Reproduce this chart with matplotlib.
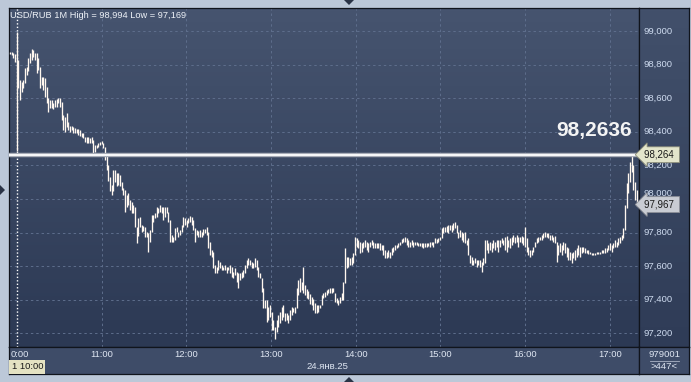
import numpy as np
import matplotlib.pyplot as plt
from matplotlib.colors import LinearSegmentedColormap
from matplotlib.patches import Polygon

plt.rcParams['font.family'] = ['Liberation Sans', 'DejaVu Sans']

# USD/RUB 1M bars, 24 Jan 2025 (sampled from the chart)
t_start, t_end = 9 + 55 / 60, 17 + 19 / 60

high = [
    98.875, 98.875, 98.869, 98.863, 98.994, 98.827, 98.708, 98.696, 98.708, 98.780,
    98.786, 98.839, 98.869, 98.893, 98.887, 98.869, 98.869, 98.839, 98.786, 98.726,
    98.726, 98.720, 98.667, 98.601, 98.589, 98.589, 98.571, 98.589, 98.595, 98.601,
    98.601, 98.577, 98.500, 98.488, 98.512, 98.458, 98.435, 98.435, 98.429, 98.423,
    98.417, 98.417, 98.411, 98.393, 98.393, 98.369, 98.369, 98.369, 98.363, 98.369,
    98.351, 98.321, 98.321, 98.333, 98.339, 98.345, 98.333, 98.310, 98.274, 98.202,
    98.131, 98.084, 98.173, 98.173, 98.155, 98.155, 98.143, 98.101, 98.066, 98.054,
    98.024, 98.036, 97.994, 97.982, 97.964, 97.953, 97.833, 97.887, 97.893, 97.845,
    97.839, 97.833, 97.803, 97.797, 97.815, 97.905, 97.905, 97.917, 97.953, 97.947,
    97.964, 97.953, 97.953, 97.953, 97.953, 97.923, 97.875, 97.785, 97.774, 97.827,
    97.833, 97.803, 97.815, 97.845, 97.893, 97.887, 97.875, 97.887, 97.899, 97.893,
    97.875, 97.827, 97.815, 97.809, 97.815, 97.803, 97.821, 97.821, 97.833, 97.803,
    97.744, 97.696, 97.684, 97.607, 97.595, 97.637, 97.625, 97.607, 97.595, 97.607,
    97.595, 97.595, 97.607, 97.595, 97.565, 97.589, 97.565, 97.559, 97.559, 97.565,
    97.577, 97.607, 97.637, 97.649, 97.637, 97.625, 97.619, 97.649, 97.637, 97.595,
    97.559, 97.530, 97.470, 97.399, 97.399, 97.357, 97.369, 97.327, 97.280, 97.238,
    97.280, 97.309, 97.327, 97.357, 97.369, 97.321, 97.321, 97.309, 97.339, 97.357,
    97.351, 97.357, 97.470, 97.518, 97.530, 97.506, 97.595, 97.488, 97.464, 97.452,
    97.434, 97.417, 97.405, 97.381, 97.369, 97.369, 97.369, 97.428, 97.440, 97.446,
    97.458, 97.464, 97.470, 97.470, 97.470, 97.440, 97.411, 97.399, 97.417, 97.440,
    97.506, 97.708, 97.655, 97.655, 97.649, 97.655, 97.678, 97.774, 97.768, 97.756,
    97.744, 97.738, 97.744, 97.756, 97.744, 97.738, 97.744, 97.756, 97.744, 97.738,
    97.738, 97.738, 97.738, 97.726, 97.726, 97.696, 97.684, 97.696, 97.684, 97.708,
    97.714, 97.726, 97.726, 97.738, 97.744, 97.762, 97.768, 97.774, 97.768, 97.756,
    97.744, 97.756, 97.744, 97.744, 97.744, 97.738, 97.738, 97.738, 97.738, 97.738,
    97.738, 97.738, 97.744, 97.744, 97.744, 97.768, 97.762, 97.768, 97.774, 97.827,
    97.833, 97.833, 97.839, 97.845, 97.845, 97.845, 97.857, 97.863, 97.845, 97.803,
    97.815, 97.803, 97.797, 97.803, 97.756, 97.768, 97.666, 97.655, 97.637, 97.649,
    97.637, 97.637, 97.637, 97.625, 97.649, 97.756, 97.756, 97.738, 97.744, 97.738,
    97.756, 97.744, 97.756, 97.756, 97.756, 97.768, 97.756, 97.774, 97.780, 97.756,
    97.768, 97.774, 97.785, 97.774, 97.785, 97.774, 97.774, 97.780, 97.774, 97.833,
    97.768, 97.714, 97.696, 97.696, 97.714, 97.744, 97.768, 97.774, 97.774, 97.785,
    97.797, 97.803, 97.797, 97.797, 97.785, 97.785, 97.774, 97.780, 97.744, 97.726,
    97.738, 97.726, 97.744, 97.738, 97.714, 97.708, 97.684, 97.678, 97.684, 97.696,
    97.708, 97.726, 97.714, 97.714, 97.714, 97.708, 97.696, 97.696, 97.684, 97.678,
    97.678, 97.678, 97.684, 97.684, 97.684, 97.696, 97.696, 97.708, 97.708, 97.726,
    97.738, 97.726, 97.738, 97.756, 97.744, 97.768, 97.774, 97.785, 97.827, 97.964,
    98.096, 98.155, 98.220, 98.264, 98.202, 98.101, 98.054,
]
low = [
    98.863, 98.857, 98.839, 98.815, 98.286, 98.661, 98.589, 98.637, 98.661, 98.690,
    98.738, 98.762, 98.809, 98.827, 98.845, 98.827, 98.750, 98.768, 98.661, 98.678,
    98.649, 98.607, 98.571, 98.518, 98.542, 98.542, 98.536, 98.548, 98.548, 98.571,
    98.548, 98.470, 98.411, 98.399, 98.429, 98.411, 98.399, 98.411, 98.393, 98.393,
    98.393, 98.381, 98.375, 98.369, 98.363, 98.339, 98.333, 98.333, 98.333, 98.333,
    98.274, 98.280, 98.304, 98.310, 98.321, 98.327, 98.304, 98.232, 98.173, 98.107,
    98.048, 98.024, 98.048, 98.101, 98.078, 98.084, 98.078, 98.054, 98.024, 97.923,
    97.953, 97.964, 97.935, 97.917, 97.917, 97.833, 97.738, 97.780, 97.833, 97.803,
    97.809, 97.774, 97.774, 97.684, 97.744, 97.803, 97.863, 97.887, 97.893, 97.917,
    97.923, 97.917, 97.875, 97.893, 97.917, 97.863, 97.744, 97.744, 97.744, 97.756,
    97.803, 97.774, 97.785, 97.803, 97.833, 97.845, 97.833, 97.857, 97.863, 97.845,
    97.815, 97.744, 97.785, 97.774, 97.774, 97.774, 97.785, 97.797, 97.785, 97.708,
    97.666, 97.655, 97.589, 97.559, 97.559, 97.577, 97.589, 97.577, 97.577, 97.577,
    97.559, 97.577, 97.559, 97.535, 97.530, 97.547, 97.506, 97.470, 97.518, 97.530,
    97.535, 97.559, 97.589, 97.607, 97.607, 97.589, 97.589, 97.595, 97.577, 97.535,
    97.530, 97.446, 97.351, 97.351, 97.268, 97.280, 97.298, 97.220, 97.220, 97.169,
    97.208, 97.238, 97.262, 97.280, 97.298, 97.274, 97.280, 97.262, 97.280, 97.309,
    97.327, 97.321, 97.351, 97.428, 97.446, 97.458, 97.440, 97.428, 97.411, 97.405,
    97.375, 97.369, 97.339, 97.321, 97.321, 97.327, 97.351, 97.369, 97.411, 97.417,
    97.428, 97.440, 97.440, 97.440, 97.446, 97.387, 97.381, 97.369, 97.381, 97.399,
    97.399, 97.500, 97.589, 97.595, 97.607, 97.607, 97.619, 97.666, 97.714, 97.708,
    97.678, 97.684, 97.708, 97.714, 97.696, 97.684, 97.714, 97.726, 97.708, 97.708,
    97.708, 97.708, 97.696, 97.696, 97.666, 97.649, 97.649, 97.655, 97.649, 97.666,
    97.684, 97.696, 97.708, 97.714, 97.726, 97.738, 97.744, 97.744, 97.726, 97.714,
    97.714, 97.726, 97.714, 97.726, 97.726, 97.720, 97.720, 97.714, 97.708, 97.714,
    97.714, 97.720, 97.714, 97.726, 97.714, 97.738, 97.738, 97.744, 97.756, 97.768,
    97.797, 97.803, 97.803, 97.797, 97.815, 97.803, 97.815, 97.827, 97.797, 97.768,
    97.774, 97.756, 97.744, 97.738, 97.726, 97.666, 97.619, 97.607, 97.607, 97.619,
    97.595, 97.607, 97.595, 97.565, 97.607, 97.619, 97.696, 97.678, 97.696, 97.684,
    97.708, 97.696, 97.714, 97.684, 97.714, 97.738, 97.726, 97.696, 97.684, 97.714,
    97.708, 97.726, 97.744, 97.738, 97.744, 97.714, 97.744, 97.738, 97.726, 97.714,
    97.684, 97.666, 97.655, 97.666, 97.684, 97.714, 97.738, 97.744, 97.756, 97.756,
    97.768, 97.774, 97.774, 97.768, 97.756, 97.756, 97.744, 97.738, 97.625, 97.666,
    97.684, 97.666, 97.696, 97.678, 97.655, 97.637, 97.637, 97.619, 97.649, 97.637,
    97.655, 97.666, 97.655, 97.678, 97.684, 97.678, 97.678, 97.672, 97.672, 97.666,
    97.666, 97.666, 97.672, 97.672, 97.672, 97.678, 97.678, 97.678, 97.684, 97.696,
    97.696, 97.684, 97.708, 97.714, 97.714, 97.726, 97.738, 97.756, 97.768, 97.815,
    97.947, 98.036, 98.101, 98.161, 98.054, 97.994, 97.958,
]

price_ticks = [97.2, 97.4, 97.6, 97.8, 98.0, 98.2, 98.4, 98.6, 98.8, 99.0]
hour_ticks = [11, 12, 13, 14, 15, 16, 17]
line_price = 98.2636
last_price = 97.967
day_open = 10.0
title = "USD/RUB 1M High = 98,994 Low = 97,169"
date_label = "24.янв.25"

W, H = 691, 382
x_lim = (9.9055, 17.3436)
y_lim = (97.119, 99.137)


def rub(v):
    return f"{v:.3f}".replace(".", ",")


def gradient(ax, top, bottom):
    cmap = LinearSegmentedColormap.from_list("g", [bottom, top])
    ax.imshow(np.linspace(0, 1, 100).reshape(-1, 1), cmap=cmap, origin="lower",
              extent=[0, 1, 0, 1], transform=ax.transAxes, aspect="auto", zorder=0)


fig = plt.figure(figsize=(W / 100, H / 100), dpi=100, facecolor="#bcc8d8")

ax = fig.add_axes([9 / W, 35 / H, 630 / W, 339 / H])
axr = fig.add_axes([639 / W, 35 / H, 50 / W, 339 / H])
axb = fig.add_axes([9 / W, 8 / H, 630 / W, 27 / H])
axc = fig.add_axes([639 / W, 8 / H, 50 / W, 27 / H])

for a in (ax, axr, axb, axc):
    a.set_xticks([])
    a.set_yticks([])
    for s in a.spines.values():
        s.set_color("#10141c")
        s.set_linewidth(0.9)

# main price panel
gradient(ax, "#46546f", "#2c3954")
ax.set_xlim(*x_lim)
ax.set_ylim(*y_lim)
grid_kw = dict(color="#5e6e8c", lw=0.7, ls=(0, (2.5, 3)), zorder=1)
for p in price_ticks:
    ax.axhline(p, **grid_kw)
for h in hour_ticks:
    ax.axvline(h, **grid_kw)
ax.axvline(day_open, color="white", lw=1.0, ls=(0, (1, 1.5)), zorder=2)

times = np.linspace(t_start, t_end, len(high))
ax.vlines(times, low, high, color="#fff7ef", lw=0.95, zorder=3)

ax.axhline(line_price, color="#a8adb8", lw=3.2, zorder=4)
ax.axhline(line_price, color="white", lw=1.3, zorder=5)
ax.text(0.989, line_price + 0.09, "98,2636", transform=ax.get_yaxis_transform(),
        ha="right", va="bottom", color="#f4f4f4", fontsize=15, fontweight="bold", zorder=6)
ax.text(0.002, 0.99, title, transform=ax.transAxes, ha="left", va="top",
        color="#eef2f8", fontsize=6.7, zorder=6)

# right price scale
gradient(axr, "#42506b", "#2f3c57")
axr.set_xlim(0, 1)
axr.set_ylim(*y_lim)
for p in price_ticks:
    if abs(p - last_price) > 0.05:
        axr.text(0.08, p, rub(p), ha="left", va="center", color="#cfdcf0", fontsize=6.8)
    else:
        # mostly hidden behind the last-price tag, as in the terminal
        axr.text(0.08, p + 0.035, rub(p), ha="left", va="center", color="#cfdcf0",
                 fontsize=6.8)
tag_kw = dict(ha="left", va="center", fontsize=7, color="#1a1a1a", zorder=5)
axr.annotate(rub(98.264) + " ", (0.1, line_price), **tag_kw,
             bbox=dict(boxstyle="larrow,pad=0.3", fc="#e3e5cb", ec="#8a8c78", lw=0.6))
axr.annotate(rub(last_price) + " ", (0.1, last_price), **tag_kw,
             bbox=dict(boxstyle="larrow,pad=0.3", fc="#c9ccd3", ec="#8d9098", lw=0.6))

# time scale
axb.set_facecolor("#3e4c68")
axb.set_xlim(*x_lim)
axb.set_ylim(0, 1)
axb.text(0.002, 0.72, "0:00", transform=axb.transAxes, ha="left", va="center",
         color="#dfe6f2", fontsize=6.8)
for h in hour_ticks:
    axb.text(h, 0.72, f"{h}:00", ha="center", va="center", color="#dfe6f2", fontsize=6.8)
axb.text(0.506, 0.27, date_label, transform=axb.transAxes, ha="center", va="center",
         color="#dfe6f2", fontsize=6.8)
axb.text(0.004, 0.27, "1 10:00", transform=axb.transAxes, ha="left", va="center",
         color="#1a1a1a", fontsize=6.8,
         bbox=dict(boxstyle="square,pad=0.25", fc="#e4e2c2", ec="none"))

axc.set_facecolor("#3e4c68")
axc.set_xlim(0, 1)
axc.set_ylim(0, 1)
axc.text(0.5, 0.74, "979001", ha="center", va="center", color="#dfe6f2", fontsize=6.8)
axc.plot([0.22, 0.8], [0.5, 0.5], color="#aab4c6", lw=0.6)
axc.text(0.5, 0.26, ">447<", ha="center", va="center", color="#dfe6f2", fontsize=6.8)

# window arrows
for pts in ([(344, 382), (354, 382), (349, 377)],
            [(344, 0), (354, 0), (349, 5)],
            [(0, 197), (0, 187), (5, 192)]):
    fig.add_artist(Polygon([(x / W, y / H) for x, y in pts], closed=True,
                           transform=fig.transFigure, fc="#2a3346", ec="none"))

fig.savefig("out.png", dpi=100, facecolor=fig.get_facecolor())
